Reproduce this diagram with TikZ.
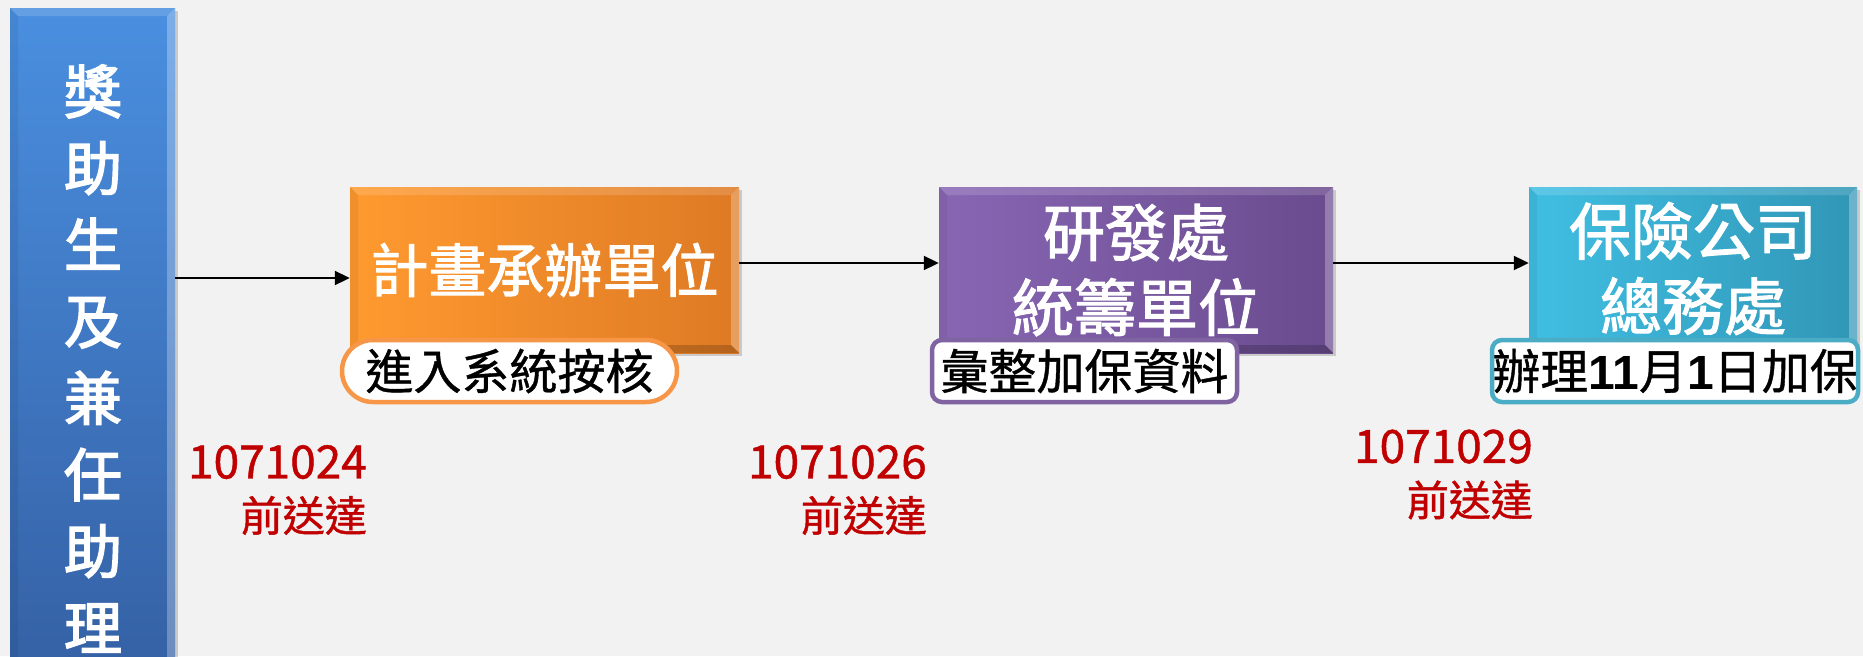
\documentclass[tikz,border=0pt]{standalone}
\usepackage{fontspec}
\setmainfont{Noto Sans CJK TC}
\newfontfamily\cjkmed{Noto Sans CJK TC}[FakeBold=1.8]
\newfontfamily\cjkblue{Noto Sans CJK TC}[FakeBold=2.6]
\newfontfamily\cjkdate{Noto Sans CJK TC}[FakeBold=1.0]
\newfontfamily\cjklab{Noto Sans CJK TC}[FakeBold=0.8]
\newfontfamily\arialb{Liberation Sans}
\usetikzlibrary{shadows,arrows.meta}
\definecolor{bg}{HTML}{F2F2F2}
\definecolor{datered}{HTML}{C00000}
\definecolor{oL}{HTML}{FF9A30}
\definecolor{oR}{HTML}{DE7A24}
\definecolor{pL}{HTML}{8866B4}
\definecolor{pR}{HTML}{6A4B8E}
\definecolor{cL}{HTML}{40BFE3}
\definecolor{cR}{HTML}{3196B6}
\definecolor{bT}{HTML}{4A8FE0}
\definecolor{bB}{HTML}{3561A5}
\definecolor{oBorder}{HTML}{F79646}
\definecolor{pBorder}{HTML}{8064A2}
\definecolor{cBorder}{HTML}{4BACC6}
\tikzset{
  bevel/.style={path picture={
    \fill[white,opacity=0.28] (path picture bounding box.north east) -- (path picture bounding box.south east)
      -- ([shift={(-8pt,8pt)}]path picture bounding box.south east) -- ([shift={(-8pt,-8pt)}]path picture bounding box.north east) -- cycle;
    \fill[white,opacity=0.15] (path picture bounding box.north west) -- (path picture bounding box.north east)
      -- ([shift={(-8pt,-8pt)}]path picture bounding box.north east) -- ([shift={(8pt,-8pt)}]path picture bounding box.north west) -- cycle;
    \fill[black,opacity=0.18] (path picture bounding box.south west) -- (path picture bounding box.south east)
      -- ([shift={(-8pt,8pt)}]path picture bounding box.south east) -- ([shift={(8pt,8pt)}]path picture bounding box.south west) -- cycle;
    \fill[black,opacity=0.06] (path picture bounding box.north west) -- (path picture bounding box.south west)
      -- ([shift={(8pt,8pt)}]path picture bounding box.south west) -- ([shift={(8pt,-8pt)}]path picture bounding box.north west) -- cycle;
  }},
  cbox/.style={inner sep=0pt, bevel, drop shadow={shadow xshift=3pt,shadow yshift=-3pt,opacity=0.35}},
  boxtext/.style={text=white, align=center},
  sublabel/.style={fill=white, line width=4.5pt, inner sep=0pt, minimum height=62pt, text=black, font=\cjklab\fontsize{48}{48}\selectfont},
  datelabel/.style={text=datered, align=right, inner sep=0pt, anchor=east, font=\cjkdate\fontsize{42}{53}\selectfont},
  arr/.style={line width=2pt, -{Triangle[length=15pt,width=14pt]}}
}
\newcommand{\dnum}[1]{{\fontsize{46}{53}\selectfont #1}}
\begin{document}
\begin{tikzpicture}[x=1pt,y=-1pt]
\clip (0,0) rectangle (1863,656);
\fill[bg] (0,0) rectangle (1863,656);

% left blue column
\node[cbox, top color=bT, bottom color=bB, minimum width=165pt, minimum height=662pt] (blue) at (92.5,339) {};
\node[boxtext, font=\cjkblue\fontsize{58}{76.6}\selectfont] (bluetext) at (93,358.5) {獎\\助\\生\\及\\兼\\任\\助\\理};

% main boxes
\node[cbox, left color=oL, right color=oR, minimum width=389pt, minimum height=166pt,
      boxtext, font=\cjkmed\fontsize{58}{66}\selectfont] (orange) at (544.5,270) {計畫承辦單位};
\node[cbox, left color=pL, right color=pR, minimum width=394pt, minimum height=166pt,
      boxtext, font=\cjkmed\fontsize{62}{75}\selectfont] (purple) at (1136,270) {研發處\\統籌單位};
\node[cbox, left color=cL, right color=cR, minimum width=328pt, minimum height=163pt,
      boxtext, font=\cjkmed\fontsize{62}{75}\selectfont] (cyan) at (1693,268.5) {保險公司\\總務處};

% sub labels
\node[sublabel, draw=oBorder, rounded corners=31pt, minimum width=335pt] (olab) at (509.5,371) {進入系統按核};
\node[sublabel, draw=pBorder, rounded corners=10pt, minimum width=305pt] (plab) at (1084.5,371) {彙整加保資料};
\node[sublabel, draw=cBorder, rounded corners=10pt, minimum width=366pt] (clab) at (1675,371) {辦理{\arialb\bfseries 11}月{\arialb\bfseries 1}日加保};

% arrows
\coordinate (a1) at ([yshift=-8pt]orange.west);
\draw[arr] (blue.east |- a1) -- (a1);
\coordinate (a2) at ([yshift=7pt]orange.east);
\draw[arr] (a2) -- (purple.west |- a2);
\coordinate (a3) at ([yshift=7pt]purple.east);
\draw[arr] (a3) -- (cyan.west |- a3);

% dates
\node[datelabel] (d1) at (367,490) {\dnum{1071024}\\前送達};
\node[datelabel] (d2) at (927,490) {\dnum{1071026}\\前送達};
\node[datelabel] (d3) at (1533,474.5) {\dnum{1071029}\\前送達};
\end{tikzpicture}
\end{document}
